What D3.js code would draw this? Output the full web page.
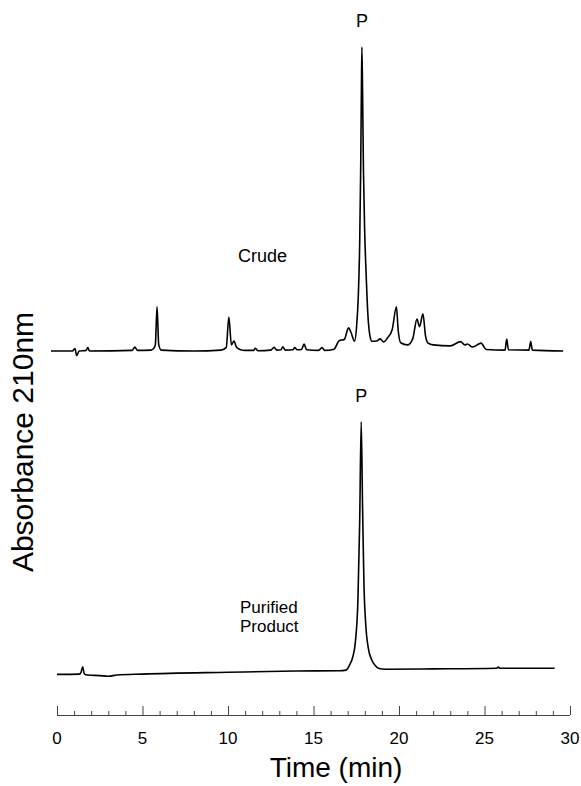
<!DOCTYPE html>
<html>
<head>
<meta charset="utf-8">
<script src="https://cdn.jsdelivr.net/npm/d3@7"></script>
<style>
  html, body { margin: 0; padding: 0; background: #fff; }
  svg { display: block; font-family: "Liberation Sans", Arial, Helvetica, sans-serif; }
</style>
</head>
<body>
<svg id="chart" width="581" height="786"></svg>
<script>
// Retention time (min) vs. absorbance at 210 nm (arbitrary units), crude sample
const crudeTrace = [
  [-0.35, 0], [0.9, 0], [1.05, 0.8], [1.15, -1.5], [1.3, 0], [1.7, 0.2], [1.8, 1.1], [1.9, 0],
  [4.4, 0.2], [4.55, 1.3], [4.7, 0.2], [5.5, 0.3], [5.65, 0.8], [5.75, 2], [5.85, 14.5], [5.95, 2], [6.1, 0.3],
  [8.0, 0], [9.6, 0.3], [9.9, 1.2], [10.05, 11.2], [10.2, 2], [10.35, 3.3], [10.5, 1.2], [10.7, 0.5],
  [11.0, 0.2], [11.5, 0.2], [11.6, 0.9], [11.75, 0.1], [12.5, 0.3], [12.7, 1.2], [12.85, 0.3],
  [13.1, 0.4], [13.2, 1.4], [13.35, 0.3], [13.8, 0.4], [13.9, 1.1], [14.05, 0.4], [14.3, 0.5],
  [14.45, 2.3], [14.6, 0.4], [15.3, 0.2], [15.5, 1.1], [15.65, 0.2], [16.2, 0.6], [16.5, 3.4],
  [16.8, 3.8], [17.05, 7.6], [17.2, 6], [17.4, 3.2], [17.52, 8], [17.62, 18], [17.7, 35], [17.76, 60],
  [17.8, 85], [17.83, 100], [17.87, 85], [17.92, 60], [17.99, 40], [18.08, 25], [18.18, 12], [18.3, 5],
  [18.42, 3.2], [18.7, 3.3], [18.9, 4], [19.1, 3], [19.35, 4.5], [19.6, 7], [19.85, 14.5], [19.95, 7],
  [20.1, 2.7], [20.5, 2], [20.8, 4], [21.05, 10.5], [21.2, 8], [21.4, 12.2], [21.55, 5], [21.7, 2.6],
  [22.0, 2], [23.0, 1.7], [23.6, 3.1], [23.85, 2.0], [24.0, 2.3], [24.3, 1.3], [24.8, 2.6], [25.1, 0.5],
  [26.2, 0.3], [26.3, 3.9], [26.4, 0.4], [27.6, 0.3], [27.7, 3.1], [27.8, 0.3], [29.6, 0]
];

// Same detector, purified product
const purifiedTrace = [
  [0.0, 0.2], [1.3, 0.3], [1.4, 0.8], [1.5, 2.7], [1.6, 0.3], [1.8, 0], [2.5, -0.2], [3.0, -0.4],
  [3.5, 0], [5, 0.3], [10, 0.9], [14, 1.3], [16.5, 1.4], [16.9, 1.6], [17.1, 3.2], [17.3, 6],
  [17.45, 11], [17.6, 25], [17.7, 50], [17.79, 83.3], [17.87, 55], [17.95, 30], [18.05, 17],
  [18.2, 9], [18.4, 5], [18.6, 3.2], [18.8, 2.2], [19.2, 1.9], [22, 2.0], [25.7, 2.2],
  [25.8, 2.6], [25.9, 2.2], [29.1, 2.2]
];

const panelLabels = [["Crude"], ["Purified", "Product"]];
const peakLabel = "P";
const peakTimes = [17.83, 17.79];
const timeTicks = [0, 5, 10, 15, 20, 25, 30];
const xTitle = "Time (min)";
const yTitle = "Absorbance 210nm";

const svg = d3.select("#chart");

const x = d3.scaleLinear().domain([0, 30]).range([57, 570]);
const yCrude = d3.scaleLinear().domain([0, 100]).range([351, 47]);
const yPure = d3.scaleLinear().domain([0, 100]).range([675, 371]);

const lineFor = y => d3.line()
  .x(d => x(d[0]))
  .y(d => y(d[1]))
  .curve(d3.curveMonotoneX);

svg.append("path")
  .datum(crudeTrace)
  .attr("d", lineFor(yCrude))
  .attr("fill", "none")
  .attr("stroke", "#000")
  .attr("stroke-width", 1.6)
  .attr("stroke-linejoin", "round");

svg.append("path")
  .datum(purifiedTrace)
  .attr("d", lineFor(yPure))
  .attr("fill", "none")
  .attr("stroke", "#000")
  .attr("stroke-width", 1.6)
  .attr("stroke-linejoin", "round");

// Peak markers above the main component
const peakTops = [
  [peakTimes[0], yCrude(d3.max(crudeTrace, d => d[1]))],
  [peakTimes[1], yPure(d3.max(purifiedTrace, d => d[1]))]
];
svg.selectAll("text.peak")
  .data(peakTops)
  .join("text")
  .attr("class", "peak")
  .attr("x", d => x(d[0]))
  .attr("y", d => d[1] - 20)
  .attr("text-anchor", "middle")
  .attr("font-size", 18)
  .text(peakLabel);

// Panel labels
svg.append("text")
  .attr("x", 238).attr("y", 262)
  .attr("font-size", 18)
  .text(panelLabels[0][0]);

svg.append("text")
  .attr("x", 240).attr("y", 613)
  .attr("font-size", 17)
  .selectAll("tspan")
  .data(panelLabels[1])
  .join("tspan")
  .attr("x", 240)
  .attr("dy", (d, i) => i === 0 ? 0 : 19)
  .text(d => d);

// Time axis: minor tick every minute, major every 5
const axisY = 715;
const axis = d3.axisTop(x)
  .tickValues(d3.range(0, 31, 1))
  .tickSize(4)
  .tickFormat("");
const gAxis = svg.append("g").attr("transform", `translate(0,${axisY})`).call(axis);
gAxis.select(".domain").remove();
gAxis.selectAll(".tick line").attr("stroke", "#444").attr("stroke-width", 1)
  .attr("y2", d => d % 5 === 0 ? -9 : -4);
gAxis.append("line")
  .attr("x1", x(0)).attr("x2", x(30))
  .attr("y1", 0.5).attr("y2", 0.5)
  .attr("stroke", "#444").attr("stroke-width", 1);

svg.selectAll("text.tick-label")
  .data(timeTicks)
  .join("text")
  .attr("class", "tick-label")
  .attr("x", d => x(d))
  .attr("y", 744)
  .attr("text-anchor", "middle")
  .attr("font-size", 17)
  .text(d => d);

svg.append("text")
  .attr("x", 336).attr("y", 777)
  .attr("text-anchor", "middle")
  .attr("font-size", 28)
  .text(xTitle);

svg.append("text")
  .attr("transform", "translate(33,442) rotate(-90)")
  .attr("text-anchor", "middle")
  .attr("font-size", 30)
  .text(yTitle);
</script>
</body>
</html>
